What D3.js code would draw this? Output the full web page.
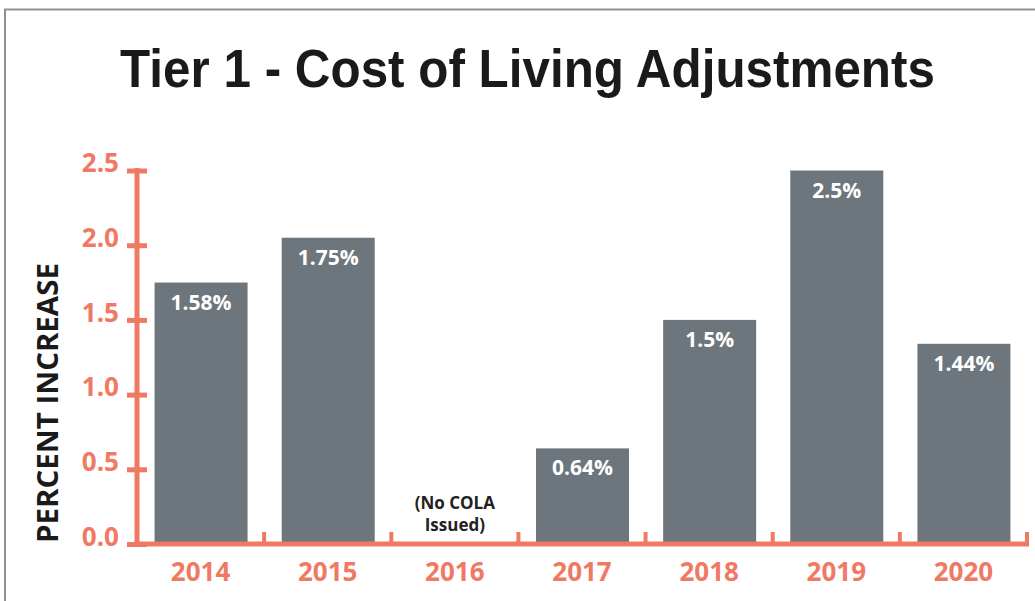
<!DOCTYPE html>
<html>
<head>
<meta charset="utf-8">
<script src="https://cdn.jsdelivr.net/npm/d3@7"></script>
<style>
  html, body { margin: 0; padding: 0; background: #fff; }
  svg { display: block; }
</style>
</head>
<body>
<div id="chart"></div>
<script>
/* Chart data */
const years = ['2014', '2015', '2016', '2017', '2018', '2019', '2020'];
const barValues = [1.75, 2.05, 0, 0.64, 1.5, 2.5, 1.34]; // bar heights as drawn
const valueLabels = ['1.58%', '1.75%', '', '0.64%', '1.5%', '2.5%', '1.44%'];
const yTicks = [0, 0.5, 1.0, 1.5, 2.0, 2.5];
const noColaLines = ['(No COLA', 'Issued)'];

/* Local Constants */
const WIDTH = 1035;
const HEIGHT = 601;
const SALMON = '#f07964';
const BAR_COLOR = '#6e767d';
const FONT = "'Open Sans', 'DejaVu Sans', sans-serif";

const svg = d3.select('#chart')
  .append('svg')
  .attr('width', WIDTH)
  .attr('height', HEIGHT);

// frame
svg.append('path')
  .attr('d', `M5,${HEIGHT} L5,9.5 L${WIDTH},9.5`)
  .attr('fill', 'none')
  .attr('stroke', '#8c9094')
  .attr('stroke-width', 2);

// title
const title = svg.append('text')
  .attr('x', 0)
  .attr('y', 0)
  .attr('text-anchor', 'middle')
  .style('font-family', "'Liberation Sans', Arial, sans-serif")
  .style('font-weight', 'bold')
  .style('font-size', '53px')
  .style('fill', '#1a1a1a')
  .text('Tier 1 - Cost of Living Adjustments');
const titleLen = title.node().getComputedTextLength();
title.attr('transform', `translate(527.5,87) scale(${815 / titleLen},1)`);

// scales
const x = d3.scaleBand().domain(years).range([137, 1027]).padding(0);
const barWidth = 93;
const y = d3.scaleLinear().domain([0, 2.5]).range([544, 170.5]);

// bars
const bars = years.map((yr, i) => ({ year: yr, value: barValues[i], label: valueLabels[i] }));

svg.selectAll('.bar')
  .data(bars.filter(d => d.value > 0))
  .enter()
  .append('rect')
  .attr('class', 'bar')
  .attr('x', d => x(d.year) + (x.bandwidth() - barWidth) / 2 + 0.5)
  .attr('y', d => y(d.value))
  .attr('width', barWidth)
  .attr('height', d => y(0) - y(d.value))
  .attr('fill', BAR_COLOR);

svg.selectAll('.value-label')
  .data(bars.filter(d => d.label))
  .enter()
  .append('text')
  .attr('class', 'value-label')
  .attr('x', d => x(d.year) + x.bandwidth() / 2 + 0.5)
  .attr('y', d => y(d.value) + 27)
  .attr('text-anchor', 'middle')
  .style('font-family', FONT)
  .style('font-weight', 'bold')
  .style('font-size', '21px')
  .style('fill', '#ffffff')
  .text(d => d.label);

// no COLA annotation
svg.append('g')
  .selectAll('text')
  .data(noColaLines)
  .enter()
  .append('text')
  .attr('x', x('2016') + x.bandwidth() / 2)
  .attr('y', (d, i) => 509 + i * 22)
  .attr('text-anchor', 'middle')
  .style('font-family', FONT)
  .style('font-weight', 'bold')
  .style('font-size', '17px')
  .style('fill', '#222')
  .text(d => d);

// y axis
const yAxisG = svg.append('g')
  .attr('transform', 'translate(137,0)')
  .call(d3.axisLeft(y).tickValues(yTicks).tickFormat(d3.format('.1f')).tickSize(10).tickPadding(8));
yAxisG.select('.domain').remove();
yAxisG.selectAll('.tick line')
  .attr('x1', -10)
  .attr('x2', 10)
  .attr('stroke', SALMON)
  .attr('stroke-width', 5);
yAxisG.selectAll('.tick text')
  .attr('dy', '0.05em')
  .style('font-family', FONT)
  .style('font-weight', 'bold')
  .style('font-size', '26px')
  .style('fill', SALMON);

svg.append('line')
  .attr('x1', 137).attr('x2', 137)
  .attr('y1', y(2.5) - 2.5).attr('y2', y(0))
  .attr('stroke', SALMON)
  .attr('stroke-width', 5);

// x axis
const xAxisG = svg.append('g')
  .attr('transform', `translate(0,${y(0)})`)
  .call(d3.axisBottom(x).tickSize(0).tickPadding(21));
xAxisG.select('.domain').remove();
xAxisG.selectAll('.tick text')
  .attr('dy', '0.6em')
  .style('font-family', FONT)
  .style('font-weight', 'bold')
  .style('font-size', '26px')
  .style('fill', SALMON);

const boundaries = years.slice(1).map(d => x(d)).concat([x.range()[1]]);
svg.selectAll('.x-boundary')
  .data(boundaries)
  .enter()
  .append('line')
  .attr('class', 'x-boundary')
  .attr('x1', d => d).attr('x2', d => d)
  .attr('y1', y(0) - 12).attr('y2', y(0))
  .attr('stroke', SALMON)
  .attr('stroke-width', 4);

svg.append('line')
  .attr('x1', 134.5).attr('x2', x.range()[1] + 2)
  .attr('y1', y(0)).attr('y2', y(0))
  .attr('stroke', SALMON)
  .attr('stroke-width', 5);

// y axis title
const yTitle = svg.append('text')
  .attr('text-anchor', 'middle')
  .style('font-family', FONT)
  .style('font-weight', 'bold')
  .style('font-size', '29px')
  .style('fill', '#1a1a1a')
  .text('PERCENT INCREASE');
const yTitleLen = yTitle.node().getComputedTextLength();
yTitle.attr('transform', `translate(58,403) rotate(-90) scale(${280 / yTitleLen},1)`);
</script>
</body>
</html>
